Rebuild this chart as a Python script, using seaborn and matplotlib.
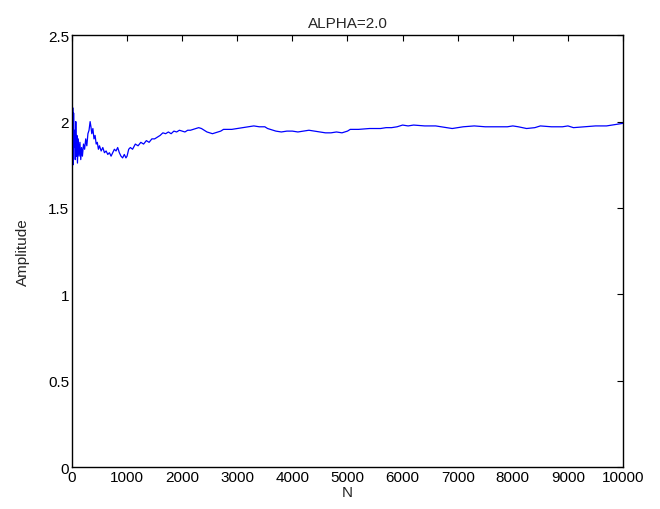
import matplotlib
matplotlib.use("Agg")
import matplotlib.pyplot as plt
import seaborn as sns
import pandas as pd

# running estimate of alpha vs number of samples
n_values = [0, 5, 10, 15, 20, 30, 40, 50, 60, 70, 80, 90, 100, 115, 130, 145, 160, 175, 190,
            210, 230, 250, 270, 290, 310, 330, 345, 360, 380, 400, 420, 440, 460, 480, 500,
            530, 560, 590, 620, 650, 680, 710, 740, 770, 800, 830, 860, 890, 920, 950, 980,
            1000, 1030, 1060, 1100, 1150, 1200, 1250, 1300, 1350, 1400, 1450, 1500, 1550,
            1600, 1650, 1700, 1750, 1800, 1850, 1900, 1950, 2000, 2050, 2100, 2150, 2200,
            2250, 2300, 2350, 2400, 2450, 2500, 2550, 2600, 2650, 2700, 2750, 2800, 2900,
            3000, 3100, 3200, 3300, 3400, 3500, 3550, 3600, 3700, 3800, 3900, 4000, 4100,
            4200, 4300, 4400, 4500, 4600, 4700, 4800, 4900, 5000, 5050, 5200, 5400, 5600,
            5700, 5800, 5900, 6000, 6100, 6200, 6400, 6600, 6700, 6800, 6900, 7000, 7100,
            7300, 7500, 7700, 7900, 8000, 8100, 8250, 8400, 8500, 8700, 8900, 9000, 9100,
            9300, 9500, 9700, 9800, 9900, 10000]
amplitude = [0.0, 1.5, 1.9, 2.08, 1.75, 2.05, 1.85, 1.95, 1.78, 2.0, 1.8, 1.92, 1.76, 1.9,
             1.8, 1.88, 1.78, 1.85, 1.8, 1.87, 1.84, 1.9, 1.86, 1.93, 1.95, 2.0, 1.97, 1.93,
             1.96, 1.9, 1.92, 1.87, 1.88, 1.84, 1.86, 1.83, 1.85, 1.82, 1.83, 1.81, 1.82,
             1.8, 1.82, 1.84, 1.83, 1.85, 1.82, 1.8, 1.79, 1.81, 1.79, 1.8, 1.84, 1.85, 1.84,
             1.87, 1.86, 1.88, 1.87, 1.89, 1.88, 1.9, 1.9, 1.91, 1.92, 1.935, 1.93, 1.94,
             1.93, 1.945, 1.94, 1.95, 1.945, 1.94, 1.95, 1.95, 1.955, 1.96, 1.965, 1.96,
             1.95, 1.94, 1.935, 1.93, 1.935, 1.94, 1.945, 1.955, 1.955, 1.955, 1.96, 1.965,
             1.97, 1.975, 1.97, 1.97, 1.96, 1.955, 1.945, 1.94, 1.945, 1.945, 1.94, 1.945,
             1.95, 1.945, 1.94, 1.935, 1.935, 1.94, 1.935, 1.945, 1.955, 1.955, 1.96, 1.96,
             1.965, 1.965, 1.97, 1.98, 1.975, 1.98, 1.975, 1.975, 1.97, 1.965, 1.96, 1.965,
             1.97, 1.975, 1.97, 1.97, 1.97, 1.975, 1.97, 1.96, 1.965, 1.975, 1.97, 1.97,
             1.975, 1.965, 1.97, 1.975, 1.975, 1.98, 1.985, 1.99]

x_ticks = [0, 1000, 2000, 3000, 4000, 5000, 6000, 7000, 8000, 9000, 10000]
y_ticks = [0, 0.5, 1, 1.5, 2, 2.5]
y_tick_labels = ["0", "0.5", "1", "1.5", "2", "2.5"]

df = pd.DataFrame({"N": n_values, "Amplitude": amplitude})

sns.set_style("white")
plt.rcParams["font.family"] = ["Liberation Sans", "DejaVu Sans"]

fig = plt.figure(figsize=(6.6, 5.1), dpi=100)
ax = fig.add_axes([0.109, 0.082, 0.835, 0.847])
sns.lineplot(data=df, x="N", y="Amplitude", color="#0000ff", linewidth=0.9, ax=ax)

ax.set_xlim(0, 10000)
ax.set_ylim(0, 2.5)
ax.set_xticks(x_ticks)
ax.set_yticks(y_ticks)
ax.set_yticklabels(y_tick_labels)
ax.tick_params(direction="in", top=True, right=True, length=4, width=0.8,
               labelsize=11, pad=2, colors="black")
for s in ax.spines.values():
    s.set_visible(True)
    s.set_color("black")
    s.set_linewidth(1.0)
ax.set_xlabel("N", fontsize=11, labelpad=1)
ax.set_ylabel("Amplitude", fontsize=11, labelpad=13)
ax.set_title("ALPHA=2.0", fontsize=11, pad=6)

fig.savefig("out.png", dpi=100)
